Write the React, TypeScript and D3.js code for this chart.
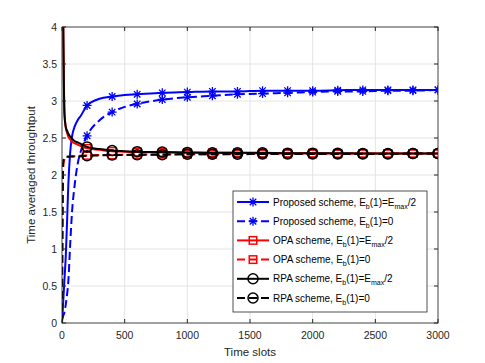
import React, { useEffect, useRef } from "react";
import * as d3 from "d3";

const WIDTH = 485;
const HEIGHT = 363;

const timeSlots = [0, 5, 10, 15, 20, 30, 40, 50, 65, 80, 100, 125, 150, 200, 300, 400, 500, 600, 800, 1000, 1200, 1400, 1600, 1800, 2000, 2200, 2400, 2600, 2800, 3000];

const proposedHalf = [0, 0.15, 0.3, 0.45, 0.6, 0.9, 1.35, 1.85, 2.3, 2.52, 2.65, 2.74, 2.8, 2.94, 3.03, 3.06, 3.08, 3.09, 3.11, 3.12, 3.13, 3.13, 3.14, 3.14, 3.14, 3.145, 3.15, 3.15, 3.15, 3.15];
const proposedZero = [0.05, 0.07, 0.1, 0.12, 0.15, 0.25, 0.38, 0.55, 1.05, 1.5, 1.85, 2.15, 2.32, 2.53, 2.74, 2.85, 2.92, 2.96, 3.02, 3.05, 3.07, 3.09, 3.1, 3.11, 3.12, 3.13, 3.13, 3.14, 3.14, 3.15];
const opaHalf = [5, 4.7, 4.1, 3.3, 2.85, 2.64, 2.57, 2.52, 2.48, 2.45, 2.43, 2.41, 2.39, 2.36, 2.34, 2.32, 2.315, 2.31, 2.305, 2.3, 2.3, 2.3, 2.295, 2.295, 2.295, 2.29, 2.29, 2.29, 2.29, 2.29];
const opaZero = [0, 1.5, 2.12, 2.18, 2.22, 2.24, 2.245, 2.25, 2.25, 2.255, 2.255, 2.26, 2.26, 2.265, 2.27, 2.27, 2.275, 2.275, 2.28, 2.28, 2.28, 2.285, 2.285, 2.285, 2.285, 2.285, 2.29, 2.29, 2.29, 2.29];
const rpaHalf = [5, 4.6, 4.0, 3.2, 2.8, 2.65, 2.6, 2.56, 2.52, 2.49, 2.46, 2.44, 2.42, 2.38, 2.35, 2.33, 2.32, 2.315, 2.31, 2.305, 2.3, 2.3, 2.3, 2.295, 2.295, 2.295, 2.29, 2.29, 2.29, 2.29];
const rpaZero = [0, 1.6, 2.18, 2.22, 2.24, 2.245, 2.245, 2.245, 2.25, 2.25, 2.25, 2.255, 2.255, 2.26, 2.265, 2.27, 2.27, 2.275, 2.275, 2.28, 2.28, 2.28, 2.285, 2.285, 2.285, 2.285, 2.285, 2.285, 2.29, 2.29];

const xTicks = [0, 500, 1000, 1500, 2000, 2500, 3000];
const yTicks = [0, 0.5, 1, 1.5, 2, 2.5, 3, 3.5, 4];

const schemeNames = ["Proposed scheme", "Proposed scheme", "OPA scheme", "OPA scheme", "RPA scheme", "RPA scheme"];
const initialEnergy = ["half", "zero", "half", "zero", "half", "zero"];

const series = [
  { values: proposedHalf, color: "#0000ff", dash: null, marker: "star" },
  { values: proposedZero, color: "#0000ff", dash: "8,4", marker: "star" },
  { values: opaHalf, color: "#ff0000", dash: null, marker: "square" },
  { values: opaZero, color: "#ff0000", dash: "8,4", marker: "square" },
  { values: rpaHalf, color: "#000000", dash: null, marker: "circle" },
  { values: rpaZero, color: "#000000", dash: "8,4", marker: "circle" },
];

const FONT = "'Liberation Sans', Arial, Helvetica, sans-serif";
const AXIS = "#262626";

function drawMarker(g, type, cx, cy, color) {
  if (type === "star") {
    const r = 4.5;
    const d = r * 0.72;
    g.append("path")
      .attr("d", `M${cx},${cy - r}L${cx},${cy + r}M${cx - r},${cy}L${cx + r},${cy}M${cx - d},${cy - d}L${cx + d},${cy + d}M${cx - d},${cy + d}L${cx + d},${cy - d}`)
      .attr("stroke", color)
      .attr("stroke-width", 1.3)
      .attr("fill", "none");
  } else if (type === "square") {
    const s = 7.5;
    g.append("rect")
      .attr("x", cx - s / 2)
      .attr("y", cy - s / 2)
      .attr("width", s)
      .attr("height", s)
      .attr("stroke", color)
      .attr("stroke-width", 1.5)
      .attr("fill", "none");
  } else {
    g.append("circle")
      .attr("cx", cx)
      .attr("cy", cy)
      .attr("r", 5)
      .attr("stroke", color)
      .attr("stroke-width", 1.5)
      .attr("fill", "none");
  }
}

function App() {
  const ref = useRef(null);

  useEffect(() => {
    const margin = { top: 27, right: 47, bottom: 40, left: 62 };
    const width = WIDTH - margin.left - margin.right;
    const height = HEIGHT - margin.top - margin.bottom;

    const root = d3.select(ref.current);
    root.selectAll("*").remove();

    const svg = root
      .append("svg")
      .attr("width", WIDTH)
      .attr("height", HEIGHT)
      .style("position", "absolute")
      .style("left", 0)
      .style("top", 0)
      .style("background", "#fff");

    const defs = svg.append("defs");
    defs.append("clipPath").attr("id", "plot-clip")
      .append("rect").attr("width", width).attr("height", height);

    const g = svg.append("g").attr("transform", `translate(${margin.left},${margin.top})`);

    const x = d3.scaleLinear().domain([0, 3000]).range([0, width]);
    const y = d3.scaleLinear().domain([0, 4]).range([height, 0]);

    // grid
    g.append("g")
      .selectAll("line")
      .data(xTicks)
      .join("line")
      .attr("x1", (d) => x(d)).attr("x2", (d) => x(d))
      .attr("y1", 0).attr("y2", height)
      .attr("stroke", "#e4e4e4").attr("stroke-width", 1);
    g.append("g")
      .selectAll("line")
      .data(yTicks)
      .join("line")
      .attr("y1", (d) => y(d)).attr("y2", (d) => y(d))
      .attr("x1", 0).attr("x2", width)
      .attr("stroke", "#e4e4e4").attr("stroke-width", 1);

    // curves
    const plot = g.append("g").attr("clip-path", "url(#plot-clip)");
    series.forEach((s) => {
      const pts = timeSlots.map((t, i) => [t, s.values[i]]);
      const line = d3.line().x((d) => x(d[0])).y((d) => y(d[1])).curve(d3.curveMonotoneX);
      plot.append("path")
        .datum(pts)
        .attr("fill", "none")
        .attr("stroke", s.color)
        .attr("stroke-width", 2)
        .attr("stroke-dasharray", s.dash)
        .attr("d", line);
      pts.filter((p) => p[0] > 0 && p[0] % 200 === 0).forEach((p) => {
        drawMarker(plot, s.marker, x(p[0]), y(p[1]), s.color);
      });
    });

    // axes box with inward ticks on all sides
    const axes = g.append("g");
    const tickLen = 4;
    xTicks.forEach((t) => {
      axes.append("line").attr("x1", x(t)).attr("x2", x(t)).attr("y1", height).attr("y2", height - tickLen).attr("stroke", AXIS);
      axes.append("line").attr("x1", x(t)).attr("x2", x(t)).attr("y1", 0).attr("y2", tickLen).attr("stroke", AXIS);
      axes.append("text")
        .attr("x", x(t)).attr("y", height + 16)
        .attr("text-anchor", "middle")
        .attr("font-family", FONT).attr("font-size", 10.5).attr("fill", AXIS)
        .text(t);
    });
    yTicks.forEach((t) => {
      axes.append("line").attr("x1", 0).attr("x2", tickLen).attr("y1", y(t)).attr("y2", y(t)).attr("stroke", AXIS);
      axes.append("line").attr("x1", width).attr("x2", width - tickLen).attr("y1", y(t)).attr("y2", y(t)).attr("stroke", AXIS);
      axes.append("text")
        .attr("x", -5).attr("y", y(t) + 4)
        .attr("text-anchor", "end")
        .attr("font-family", FONT).attr("font-size", 10.5).attr("fill", AXIS)
        .text(t);
    });
    axes.append("rect")
      .attr("width", width).attr("height", height)
      .attr("fill", "none").attr("stroke", AXIS).attr("stroke-width", 0.8);

    // axis labels
    svg.append("text")
      .attr("x", margin.left + width / 2).attr("y", 356)
      .attr("text-anchor", "middle")
      .attr("font-family", FONT).attr("font-size", 11.5).attr("fill", AXIS)
      .text("Time slots");
    svg.append("text")
      .attr("transform", `translate(35,${margin.top + height / 2}) rotate(-90)`)
      .attr("text-anchor", "middle")
      .attr("font-family", FONT).attr("font-size", 11.5).attr("fill", AXIS)
      .text("Time averaged throughtput");

    // legend
    const lg = svg.append("g").attr("transform", "translate(233,191)");
    lg.append("rect")
      .attr("width", 194).attr("height", 121)
      .attr("fill", "#fff").attr("stroke", AXIS).attr("stroke-width", 0.8);
    series.forEach((s, i) => {
      const cy = 11 + i * 19.2;
      lg.append("line")
        .attr("x1", 4).attr("x2", 36).attr("y1", cy).attr("y2", cy)
        .attr("stroke", s.color).attr("stroke-width", 2)
        .attr("stroke-dasharray", s.dash);
      drawMarker(lg, s.marker, 20, cy, s.color);
      const txt = lg.append("text")
        .attr("x", 40).attr("y", cy + 3.5)
        .attr("font-family", FONT).attr("font-size", 10).attr("fill", "#000");
      txt.append("tspan").text(`${schemeNames[i]}, E`);
      txt.append("tspan").attr("font-size", 7).attr("dy", 3).text("b");
      if (initialEnergy[i] === "half") {
        txt.append("tspan").attr("dy", -3).text("(1)=E");
        txt.append("tspan").attr("font-size", 7).attr("dy", 3).text("max");
        txt.append("tspan").attr("dy", -3).text("/2");
      } else {
        txt.append("tspan").attr("dy", -3).text("(1)=0");
      }
    });
  }, []);

  return <div ref={ref}></div>;
}

export default App;
